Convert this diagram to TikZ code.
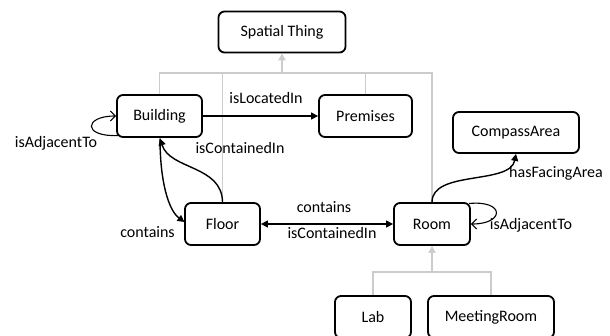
\documentclass[tikz,border=0pt]{standalone}
\usepackage{fontspec}
\setmainfont{Carlito}
\usetikzlibrary{arrows.meta}
\definecolor{isagray}{RGB}{204,204,204}
\tikzset{
  cls/.style={draw=black, line width=1.8pt, rounded corners=6pt, fill=white,
    inner sep=0pt, font=\fontsize{16}{19}\selectfont},
  lbl/.style={inner sep=0pt, font=\fontsize{16}{19}\selectfont, text height=0.72em, text depth=0.2em},
  isaline/.style={draw=isagray, line width=1.8pt},
  isaarrow/.style={draw=isagray, line width=1.8pt, -{Triangle[length=7pt,width=7pt]}},
  rel/.style={draw=black, line width=1.4pt, -{Triangle[length=7pt,width=7pt]}},
  loopar/.style={draw=black, line width=1.1pt, -{Straight Barb[length=5pt,width=10pt]}}
}
\begin{document}
\begin{tikzpicture}[x=1pt,y=-1pt]
\useasboundingbox (0,0) rectangle (610,335);
% classes
\node[cls, minimum width=127pt, minimum height=41pt] (st) at (282,32) {Spatial Thing};
\node[cls, minimum width=85pt, minimum height=42pt] (bld) at (159.5,116) {Building};
\node[cls, minimum width=93pt, minimum height=42pt] (prem) at (365.5,116) {Premises};
\node[cls, minimum width=126pt, minimum height=41pt] (comp) at (516,132.5) {CompassArea};
\node[cls, minimum width=75pt, minimum height=42pt] (floor) at (222.5,224) {Floor};
\node[cls, minimum width=76pt, minimum height=42pt] (room) at (432,224) {Room};
\node[cls, minimum width=76pt, minimum height=42pt] (lab) at (373,317) {Lab};
\node[cls, minimum width=126pt, minimum height=42pt] (meet) at (491,317) {MeetingRoom};
% is-a hierarchy
\coordinate (j1) at (282,73);
\coordinate (j2) at (432,272);
\draw[isaline] (bld.north) |- (j1);
\draw[isaline] (room.north) |- (j1);
\draw[isaline] (floor.north) -- (floor.north |- j1);
\draw[isaline] (prem.north) -- (prem.north |- j1);
\draw[isaarrow] (j1) -- (st.south);
\draw[isaline] (lab.north) |- (j2);
\draw[isaline] (meet.north) |- (j2);
\draw[isaarrow] (j2) -- (room.south);
% relations
\draw[rel] (bld.east) -- (prem.west);
\node[lbl] (l1) at (266,101) {isLocatedIn};
\draw[rel] (floor.north) .. controls (222,165) and (170,170) .. (160,138.5);
\node[lbl] (l2) at (240,151) {isContainedIn};
\draw[rel] (160,138.5) .. controls (160,180) and (168,210) .. (184.5,222);
\node[lbl] (l3) at (147.5,235) {contains};
\draw[loopar] (118,135.5) .. controls (82,137) and (84,116) .. (bld.west);
\node[lbl] (l4) at (56,145) {isAdjacentTo};
\draw[rel, {Triangle[length=7pt,width=7pt]}-{Triangle[length=7pt,width=7pt]}] (floor.east) -- (room.west);
\node[lbl] (l5) at (324,210) {contains};
\node[lbl] (l6) at (332,236) {isContainedIn};
\draw[rel] (room.north) .. controls (432,170) and (510,185) .. (comp.south);
\node[lbl] (l7) at (556,175) {hasFacingArea};
\draw[loopar] (469,203.5) .. controls (505,200) and (505,224) .. (room.east);
\node[lbl] (l8) at (531,227) {isAdjacentTo};
\end{tikzpicture}
\end{document}
